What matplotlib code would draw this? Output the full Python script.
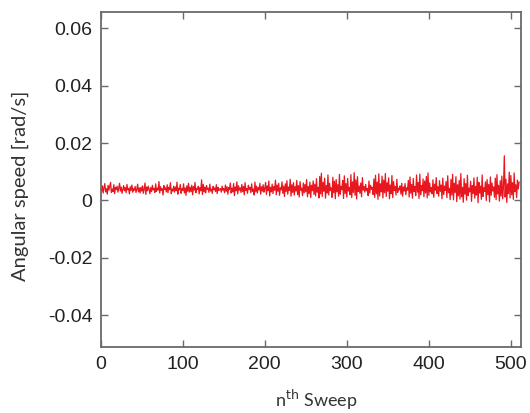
import matplotlib
matplotlib.use("Agg")
import matplotlib.pyplot as plt
import numpy as np

# Angular speed values (in units of 1e-3 rad/s), sweep 0..510
speed_milli = [
    4.8, 3.2, 5.1, 2.6, 4.4, 5.9, 3.0, 4.1, 2.2, 5.3,
    3.6, 4.9, 6.3, 2.8, 4.0, 3.1, 5.5, 2.4, 4.6, 3.8,
    5.0, 2.9, 4.3, 6.0, 3.3, 4.7, 2.5, 3.9, 5.2, 3.4,
    4.5, 2.7, 5.6, 3.7, 4.2, 2.3, 4.8, 3.5, 5.4, 2.9,
    4.1, 3.6, 4.9, 2.8, 3.9, 5.7, 3.0, 4.4, 2.6, 4.6,
    3.3, 5.1, 2.5, 4.0, 6.1, 2.1, 4.7, 3.4, 5.0, 3.8,
    2.4, 4.5, 3.1, 5.3, 3.7, 4.2, 2.8, 5.8, 3.2, 4.3,
    3.6, 6.6, 2.6, 4.8, 3.5, 4.1, 1.9, 5.2, 3.9, 4.4,
    3.0, 5.5, 2.7, 4.6, 3.8, 6.2, 2.4, 4.0, 3.3, 5.0,
    2.9, 4.7, 3.4, 6.4, 2.2, 4.3, 3.7, 5.6, 2.5, 4.1,
    3.5, 5.8, 2.6, 4.4, 1.8, 5.1, 3.2, 6.0, 2.9, 4.6,
    3.1, 5.3, 2.0, 4.8, 3.6, 6.3, 2.7, 4.2, 3.8, 5.0,
    2.3, 4.5, 3.4, 7.2, 2.1, 5.6, 3.0, 4.7, 2.6, 5.2,
    3.9, 4.3, 2.8, 5.7, 3.3, 4.0, 2.5, 4.9, 3.7, 4.4,
    3.1, 5.5, 2.4, 4.6, 3.5, 3.9, 4.2, 2.9, 5.0, 3.6,
    4.1, 2.7, 5.4, 3.2, 4.8, 2.2, 4.5, 3.8, 6.1, 2.6,
    4.3, 3.0, 5.9, 1.7, 4.7, 3.4, 6.5, 2.3, 5.1, 3.6,
    4.4, 2.8, 5.6, 3.1, 4.9, 2.0, 6.2, 3.5, 4.2, 2.5,
    5.3, 3.9, 4.6, 2.7, 5.8, 3.2, 4.0, 1.9, 6.4, 3.0,
    5.0, 2.6, 4.5, 3.7, 6.0, 2.2, 4.8, 3.3, 5.5, 2.9,
    4.2, 6.3, 2.1, 5.1, 3.4, 6.8, 1.6, 4.6, 3.0, 5.7,
    2.4, 4.9, 3.6, 7.1, 2.0, 5.4, 3.2, 6.0, 1.8, 4.4,
    3.7, 6.5, 2.5, 5.0, 1.4, 5.8, 3.1, 6.9, 2.2, 4.7,
    3.5, 7.4, 1.5, 5.5, 2.8, 6.2, 1.9, 4.8, 3.3, 7.0,
    2.0, 5.2, 1.2, 6.6, 3.6, 4.3, 1.7, 6.1, 2.6, 5.6,
    3.0, 7.3, 1.3, 4.9, 2.4, 6.4, 1.0, 5.3, 3.4, 6.8,
    2.1, 5.7, 1.6, 7.6, 2.9, 4.6, 0.9, 8.4, 2.3, 9.5,
    1.4, 6.3, 3.2, 7.8, 0.8, 5.2, 2.6, 8.9, 1.9, 6.0,
    3.5, 4.4, 1.1, 8.1, 2.7, 6.7, 0.6, 7.3, 3.0, 5.5,
    1.5, 9.1, 2.2, 4.8, 3.8, 7.0, 0.7, 8.6, 2.4, 5.9,
    1.2, 7.7, 3.3, 4.5, 2.0, 9.0, 1.0, 6.5, 2.8, 9.7,
    1.8, 7.2, 0.5, 8.3, 3.1, 5.0, 2.5, 6.1, 1.3, 8.0,
    3.6, 4.9, 2.9, 5.6, 3.4, 4.2, 1.7, 6.8, 2.6, 5.3,
    3.9, 4.6, 2.1, 7.5, 1.1, 8.8, 2.3, 6.4, 0.4, 9.3,
    1.6, 5.8, 3.0, 8.5, 0.9, 7.1, 2.7, 9.4, 1.4, 6.2,
    3.2, 7.9, 0.6, 5.4, 2.4, 8.7, 1.0, 6.6, 3.5, 4.8,
    1.9, 7.4, 2.8, 4.3, 3.7, 5.1, 2.2, 6.0, 1.5, 4.7,
    3.3, 5.9, 2.0, 4.4, 3.6, 7.0, 1.2, 8.2, 2.5, 5.6,
    0.8, 7.7, 3.1, 4.9, 1.7, 8.9, 2.9, 6.3, 0.7, 9.2,
    2.0, 5.2, 3.4, 7.5, 1.3, 6.8, 2.6, 8.4, 0.9, 9.6,
    1.8, 6.1, 3.0, 4.5, 2.3, 7.2, 1.1, 5.7, 3.6, 8.0,
    2.4, 4.8, 1.5, 6.9, 3.2, 5.4, 0.6, 7.8, 2.1, 5.0,
    3.5, 6.6, 1.0, 8.6, 2.7, 4.2, 0.3, 7.4, 1.9, 9.1,
    0.2, 6.0, 2.8, 8.3, -0.4, 5.5, 1.6, 7.0, 0.5, 9.4,
    1.3, 4.6, -0.6, 7.6, 2.2, 5.9, 0.1, 8.8, 1.7, 4.3,
    3.0, 6.7, -0.3, 5.2, 2.5, 7.9, 0.8, 4.9, 1.9, 8.1,
    -0.8, 6.3, 2.6, 5.0, 0.4, 8.9, 1.4, 4.4, 3.1, 6.5,
    0.0, 7.3, 2.0, 5.6, -0.5, 8.2, 1.8, 6.1, 3.3, 4.7,
    1.1, 7.8, 0.3, 9.0, 2.3, 5.3, -0.2, 6.9, 1.5, 8.5,
    0.6, 4.9, 15.6, 1.2, 7.4, -0.7, 5.8, 2.4, 9.9, 0.9,
    8.7, 2.0, 6.2, 0.4, 9.6, 3.1, 5.5, 1.0, 7.1, 4.0,
    6.4,
]
speed = np.array(speed_milli) * 1e-3
sweeps = np.arange(len(speed))

xticks = [0, 100, 200, 300, 400, 500]
yticks = [-0.04, -0.02, 0, 0.02, 0.04, 0.06]
ytick_labels = ["-0.04", "-0.02", "0", "0.02", "0.04", "0.06"]

fig = plt.figure(figsize=(5.30, 4.13), dpi=100)
ax = fig.add_axes([0.190, 0.1605, 0.7925, 0.8095])

ax.plot(sweeps, speed, color="#e8161e", linewidth=0.9)

ax.set_xlim(0, 512)
ax.set_ylim(-0.051, 0.0656)
ax.set_xticks(xticks)
ax.set_xticklabels([str(t) for t in xticks])
ax.set_yticks(yticks)
ax.set_yticklabels(ytick_labels)

for s in ax.spines.values():
    s.set_color("#6a6a6a")
    s.set_linewidth(1.3)

ax.tick_params(direction="in", top=True, right=True, length=5, width=1.0,
               color="#6a6a6a", labelsize=14)
ax.tick_params(axis="x", pad=7)
ax.tick_params(axis="y", pad=6)
for lbl in ax.get_xticklabels() + ax.get_yticklabels():
    lbl.set_fontfamily("Liberation Sans")
    lbl.set_color("#222222")

ax.set_xlabel(r"n$^{\mathrm{th}}$ Sweep", fontsize=13, fontfamily="Lato",
              color="#333333")
ax.set_ylabel("Angular speed [rad/s]", fontsize=14.5, fontfamily="Lato",
              color="#333333")
ax.xaxis.set_label_coords(0.5126, -0.122)
ax.yaxis.set_label_coords(-0.192, 0.48)
ax.yaxis.label.set_verticalalignment("center")

fig.savefig("out.png", dpi=100)
